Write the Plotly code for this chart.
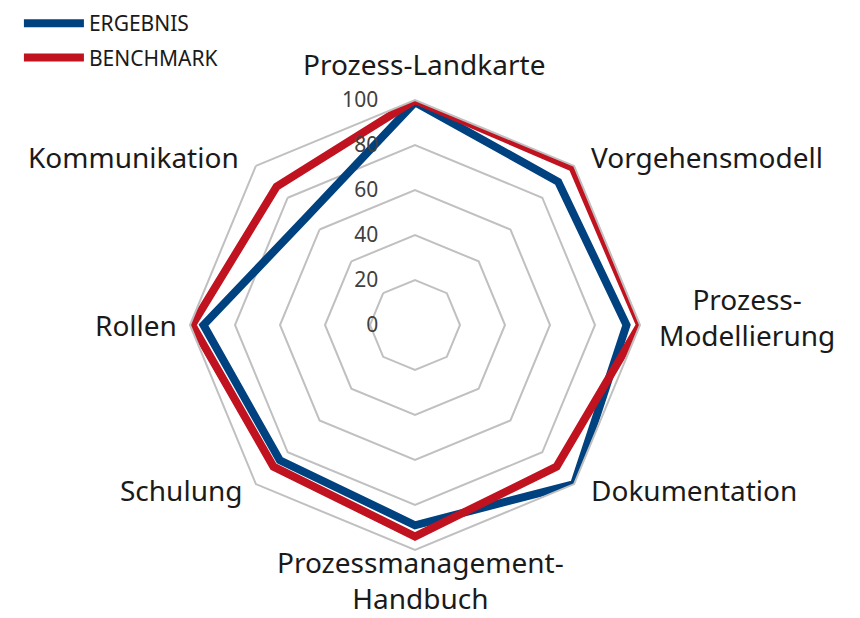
import plotly.graph_objects as go

categories = ["Prozess-Landkarte", "Vorgehensmodell", "Prozess-Modellierung",
              "Dokumentation", "Prozessmanagement-Handbuch", "Schulung",
              "Rollen", "Kommunikation"]
ergebnis = [99, 90, 94, 100, 89, 85, 94, 68]
benchmark = [100, 99, 100, 89, 94, 89, 99, 87]
tick_vals = [0, 20, 40, 60, 80, 100]
tick_text = ["0", "20", "40", "60", "80", "100"]

blue = "#00427f"
red = "#c1121f"
grid = "#c0c0c0"
font_family = "Noto Sans, Open Sans, sans-serif"

# category labels (paper px): text, x, y, xanchor
label_lines = [
    ("Prozess-Landkarte", 424, 64, "center"),
    ("Vorgehensmodell", 589, 157, "left"),
    ("Prozess-<br>Modellierung", 747, 317, "center"),
    ("Dokumentation", 589, 490, "left"),
    ("Prozessmanagement-<br>Handbuch", 420, 580, "center"),
    ("Schulung", 244, 490, "right"),
    ("Rollen", 179, 325, "right"),
    ("Kommunikation", 241, 157, "right"),
]

W, H = 860, 618

fig = go.Figure()
fig.add_trace(go.Scatterpolar(
    r=ergebnis + ergebnis[:1], theta=categories + categories[:1],
    mode="lines", name="ERGEBNIS", line=dict(color=blue, width=8),
    legendgroup="a"))
fig.add_trace(go.Scatterpolar(
    r=benchmark + benchmark[:1], theta=categories + categories[:1],
    mode="lines", name="BENCHMARK", line=dict(color=red, width=8),
    legendgroup="b"))

annotations = []
for text, x, y, xa in label_lines:
    annotations.append(dict(
        text=text, x=x / W, y=1 - y / H, xref="paper", yref="paper",
        xanchor=xa, yanchor="middle", align=xa, showarrow=False,
        font=dict(size=28, color="#1a1a1a", family=font_family)))

fig.update_layout(
    width=W, height=H,
    margin=dict(l=0, r=0, t=0, b=0),
    paper_bgcolor="white",
    font=dict(family=font_family, color="#1a1a1a"),
    polar=dict(
        domain=dict(x=[190 / W, 640 / W], y=[68 / H, 518 / H]),
        bgcolor="white",
        gridshape="linear",
        radialaxis=dict(range=[0, 100], tickvals=tick_vals, ticktext=tick_text,
                        angle=90, tickangle=90, side="counterclockwise",
                        showline=False, ticks="outside", ticklen=29,
                        tickcolor="rgba(0,0,0,0)",
                        gridcolor=grid, gridwidth=2,
                        tickfont=dict(size=21, color="#404040")),
        angularaxis=dict(direction="clockwise", rotation=90, showgrid=False,
                         showline=True, linecolor=grid, linewidth=2, ticks="",
                         showticklabels=False),
    ),
    annotations=annotations,
    legend=dict(x=0.022, y=0.995, xanchor="left", yanchor="top",
                font=dict(size=21, color="#1a1a1a"), tracegroupgap=4,
                itemwidth=60),
    showlegend=True,
)

fig.write_html("out.html")
